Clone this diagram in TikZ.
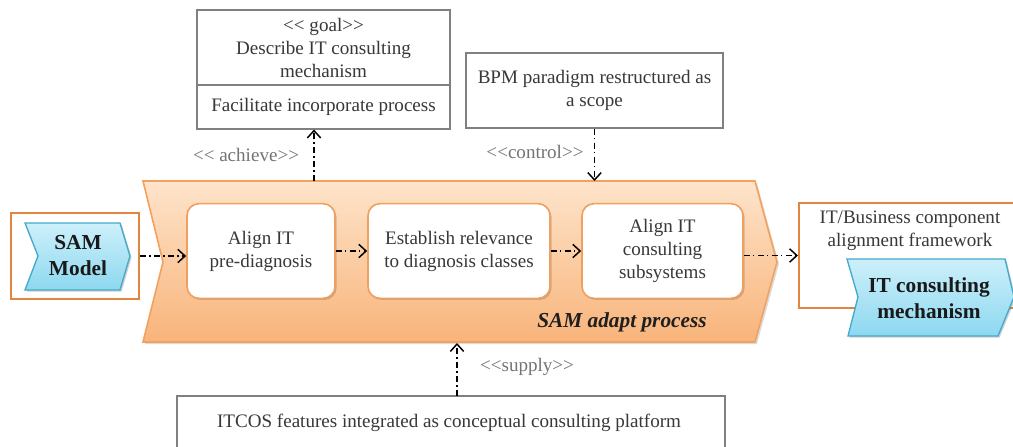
\documentclass[tikz,border=0pt]{standalone}
\usepackage{fontspec}
\setmainfont{Liberation Serif}
\usepackage{tikz}
\usetikzlibrary{arrows.meta,calc,shadows}

\definecolor{procline}{HTML}{F2A25E}
\definecolor{proctop}{HTML}{FEE4CB}
\definecolor{procbot}{HTML}{F8B47A}
\definecolor{stepline}{HTML}{EFA05E}
\definecolor{outline}{HTML}{E2853F}
\definecolor{chevtop}{HTML}{CDF0FA}
\definecolor{chevbot}{HTML}{8DD8F0}
\definecolor{chevline}{HTML}{45A9CB}

\newcommand{\ltlt}{<\kern0pt<}
\newcommand{\gtgt}{>\kern0pt>}

\tikzset{
    every node/.style={font=\fontsize{14.3}{17.2}\selectfont,text=black!78,align=center},
    umlbox/.style={draw=black!50,line width=0.8pt,fill=white,inner sep=0pt},
    stepbox/.style={draw=stepline,line width=1.2pt,fill=white,rounded corners=9pt,inner sep=0pt,
        minimum height=71pt,
        drop shadow={shadow xshift=1.2pt,shadow yshift=-1.2pt,opacity=0.25,fill=black!70}},
    framebox/.style={draw=outline,line width=1.5pt,fill=white,inner sep=0pt},
    procshape/.style={draw=procline,line width=1.2pt,top color=proctop,bottom color=procbot,
        drop shadow={shadow xshift=1.5pt,shadow yshift=-1.5pt,opacity=0.2,fill=black!70}},
    chevshape/.style={draw=chevline,line width=1pt,top color=chevtop,bottom color=chevbot,
        drop shadow={shadow xshift=1.2pt,shadow yshift=-1.2pt,opacity=0.25,fill=black!70}},
    boldtext/.style={font=\fontsize{16}{19.5}\selectfont\bfseries,text=black!90},
    stereo/.style={text=black!55},
    flow/.style={line width=1.1pt,dash pattern=on 4.5pt off 2.5pt on 1pt off 2.5pt,
        -{Straight Barb[length=5.5pt,width=10pt]}}
}

\begin{document}
\begin{tikzpicture}[x=0.75pt,y=-0.75pt]
            \useasboundingbox (0,0) rectangle (1013,446);

            \path[procshape] (143,181) -- (755,181) -- (777,262) -- (755,342) -- (143,342) -- (163,262) -- cycle;
            \coordinate (proctop) at (0,181);
            \coordinate (procbot) at (0,343);
            \node[font=\fontsize{16}{19}\selectfont\bfseries\itshape,text=black!88] (proclbl) at (622,322) {SAM adapt process};

            \node[stepbox,minimum width={148*0.75pt}] (align) at (261,251) {Align IT\\pre-diagnosis};
            \node[stepbox,minimum width={182*0.75pt}] (relevance) at (459,251) {Establish relevance\\to diagnosis classes};
            \node[stepbox,minimum width={161*0.75pt}] (subsys) at (662.5,251) {Align IT\\consulting\\subsystems};

            \node[framebox,minimum width={128*0.75pt},minimum height={86*0.75pt}] (sambox) at (75,256) {};
            \path[chevshape] (25,223) -- (120,223) -- (130,256) -- (120,290) -- (25,290) -- (38,256) -- cycle;
            \node[boldtext] (samlbl) at (78,256) {SAM\\Model};

            \node[framebox,minimum width={221*0.75pt},minimum height={105*0.75pt}] (itbox) at (909.5,255.5) {};
            \node (itlbl) at (910,231) {IT/Business component\\alignment framework};
            \path[chevshape] (847,259) -- (1005,259) -- (1014,297) -- (998,336) -- (848,336) -- (858,297) -- cycle;
            \node[boldtext] (mechlbl) at (929,298) {IT consulting\\mechanism};

            \node[umlbox,minimum width={253*0.75pt},minimum height={119*0.75pt}] (goal) at (323.5,69.5) {};
            \coordinate (divider) at (0,85);
            \draw[black!50,line width=0.8pt] (goal.west |- divider) -- (goal.east |- divider);
            \node (goalhead) at (323.5,48) {\ltlt{} goal\gtgt\\Describe IT consulting\\mechanism};
            \node (goalbody) at (323.5,107) {Facilitate incorporate process};

            \node[umlbox,minimum width={257*0.75pt},minimum height={75*0.75pt}] (bpm) at (594.5,90.5) {BPM paradigm restructured as\\a scope};

            \node[umlbox,minimum width={548*0.75pt},minimum height={64*0.75pt}] (itcos) at (451,428) {};
            \node (itcoslbl) at (449,423) {ITCOS features integrated as conceptual consulting platform};

            \coordinate (achievefoot) at (314,181);
            \coordinate (supplyfoot) at (457,396);
            \node[stereo] (achieve) at (246,155) {\ltlt{} achieve\gtgt};
            \node[stereo] (control) at (535,152) {\ltlt control\gtgt};
            \node[stereo] (supply) at (527,367) {\ltlt supply\gtgt};

            \draw[flow] (achievefoot) -- (achievefoot |- goal.south);
            \draw[flow] (bpm.south) -- (bpm.south |- proctop);
            \draw[flow] (supplyfoot) -- (supplyfoot |- procbot);

            \draw[flow] (sambox.east) -- (sambox.east -| align.west);
            \draw[flow] (align) -- (relevance);
            \draw[flow] (relevance) -- (subsys);
            \draw[flow] (subsys.east |- itbox.west) -- (itbox.west);
\end{tikzpicture}
\end{document}
